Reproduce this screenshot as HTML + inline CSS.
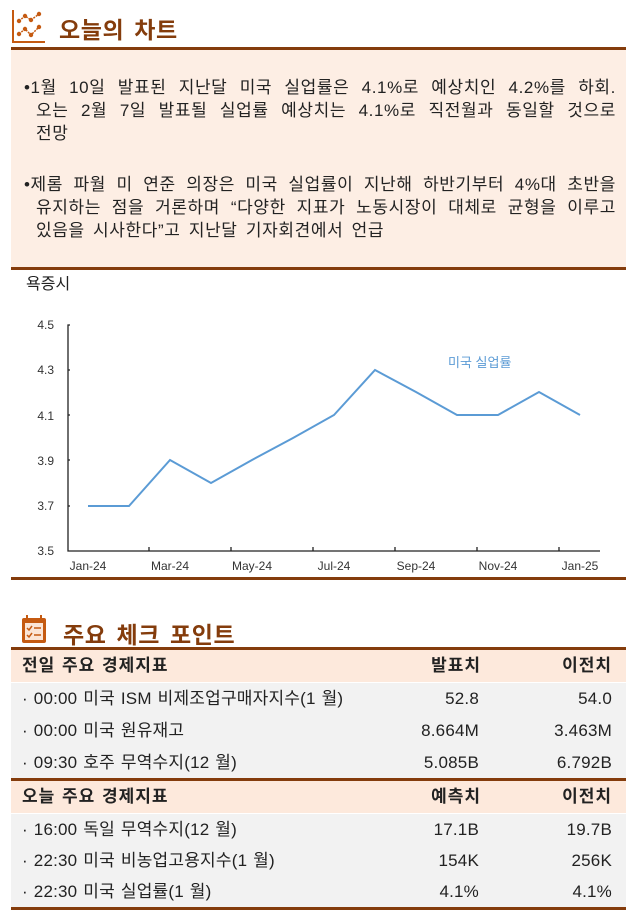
<!DOCTYPE html>
<html><head><meta charset="utf-8"><style>
body{margin:0;width:636px;height:921px;background:#fff;font-family:"Liberation Sans","Noto Sans CJK KR",sans-serif;position:relative;overflow:hidden}
.abs{position:absolute}
.title{font-weight:bold;color:#843c0c;font-size:23px;letter-spacing:0.6px;word-spacing:3px}
.rule{position:absolute;left:11px;width:615px;height:3px;background:#843c0c}
.pink{position:absolute;left:11px;top:50px;width:615px;height:218px;background:#fdeee4}
.p{position:absolute;left:24px;width:592px;font-size:17px;line-height:23px;color:#222;letter-spacing:0.6px}
.p div{text-align:justify;text-align-last:justify;white-space:nowrap}
.p div.l{text-align-last:left}
.p div.i{padding-left:12px}
.row{position:absolute;left:11px;width:615px;height:32px;font-size:17px;color:#222;line-height:32px;letter-spacing:0.2px;word-spacing:1px}
.row span{position:absolute}
.hd{background:#fde9dc;font-weight:bold;font-size:17px;letter-spacing:1px}
.gr{background:#f2f2f2}
</style></head><body>
<svg class="abs" style="left:11px;top:8px" width="36" height="36" viewBox="0 0 36 36">
<path d="M2 2V34H34" stroke="#c55a11" stroke-width="2" fill="none"/>
<polyline points="8,13 14,8 20,12 28,6" stroke="#c55a11" stroke-width="1.5" fill="none" stroke-dasharray="2 1"/>
<polyline points="8,26 14,21 20,27 28,19" stroke="#c55a11" stroke-width="1.5" fill="none" stroke-dasharray="2 1"/>
<g fill="#c55a11"><circle cx="8" cy="13" r="2.2"/><circle cx="14" cy="8" r="2.2"/><circle cx="20" cy="12" r="2.2"/><circle cx="28" cy="6" r="2.2"/><circle cx="8" cy="26" r="2.2"/><circle cx="14" cy="21" r="2.2"/><circle cx="20" cy="27" r="2.2"/><circle cx="28" cy="19" r="2.2"/></g>
</svg>
<div class="abs title" style="left:59px;top:11px">오늘의 차트</div>
<div class="pink"></div>
<div class="rule" style="top:47px"></div>
<div class="p" style="top:76px"><div>•1월 10일 발표된 지난달 미국 실업률은 4.1%로 예상치인 4.2%를 하회.</div><div class="i">오는 2월 7일 발표될 실업률 예상치는 4.1%로 직전월과 동일할 것으로</div><div class="i l">전망</div></div>
<div class="p" style="top:173px"><div>•제롬 파월 미 연준 의장은 미국 실업률이 지난해 하반기부터 4%대 초반을</div><div class="i">유지하는 점을 거론하며 “다양한 지표가 노동시장이 대체로 균형을 이루고</div><div class="i l" style="word-spacing:3px">있음을 시사한다”고 지난달 기자회견에서 언급</div></div>
<div class="rule" style="top:267px"></div>
<div class="abs" style="left:26px;top:270px;font-size:16px;color:#222">욕증시</div>
<svg class="abs" style="left:0;top:300px" width="636" height="280">
<g font-family="Liberation Sans" font-size="12" fill="#333" text-anchor="end">
<text x="54" y="29">4.5</text><text x="54" y="74">4.3</text><text x="54" y="120">4.1</text><text x="54" y="165">3.9</text><text x="54" y="210">3.7</text><text x="54" y="255">3.5</text>
</g>
<g stroke="#222" stroke-width="1.3" fill="none">
<path d="M70 25H68V251H600"/>
<path d="M68 70H70M68 115H70M68 160H70M68 206H70"/>
<path d="M149 251V247M231 251V247M313 251V247M395 251V247M477 251V247M559 251V247"/>
</g>
<g font-family="Liberation Sans" font-size="12" fill="#333" text-anchor="middle">
<text x="88" y="270">Jan-24</text><text x="170" y="270">Mar-24</text><text x="252" y="270">May-24</text><text x="334" y="270">Jul-24</text><text x="416" y="270">Sep-24</text><text x="498" y="270">Nov-24</text><text x="580" y="270">Jan-25</text>
</g>
<polyline fill="none" stroke="#5b9bd5" stroke-width="2" points="88,206 129,206 170,160 211,183 252,160 293,138 334,115 375,70 416,92 457,115 498,115 539,92 580,115"/>
<text x="448" y="67" font-size="13" fill="#5b9bd5" font-family="Liberation Sans,Noto Sans CJK KR">미국 실업률</text>
</svg>
<div class="rule" style="top:577px"></div>
<svg class="abs" style="left:21px;top:614px" width="26" height="30" viewBox="0 0 26 30">
<rect x="1" y="4" width="24" height="25" rx="2" fill="#c55a11"/>
<rect x="4" y="9" width="18" height="17" fill="#fbe5d6"/>
<path d="M6 1V7M20 1V7" stroke="#c55a11" stroke-width="2"/>
<path d="M6 14l2 2 3-4M6 21l2 2 3-4M13 14H20M13 21H20" stroke="#c55a11" stroke-width="1.5" fill="none"/>
</svg>
<div class="abs title" style="left:63px;top:616px">주요 체크 포인트</div>
<div class="rule" style="top:647px"></div>
<div class="row hd" style="top:650px"><span style="left:11px">전일 주요 경제지표</span><span style="right:145px">발표치</span><span style="right:14px">이전치</span></div>
<div class="row gr" style="top:683px"><span style="left:11px">· 00:00 미국 ISM 비제조업구매자지수(1 월)</span><span style="right:147px">52.8</span><span style="right:14px">54.0</span></div>
<div class="row gr" style="top:715px"><span style="left:11px">· 00:00 미국 원유재고</span><span style="right:147px">8.664M</span><span style="right:14px">3.463M</span></div>
<div class="row gr" style="top:747px"><span style="left:11px">· 09:30 호주 무역수지(12 월)</span><span style="right:147px">5.085B</span><span style="right:14px">6.792B</span></div>
<div class="rule" style="top:778px"></div>
<div class="row hd" style="top:781px"><span style="left:11px">오늘 주요 경제지표</span><span style="right:145px">예측치</span><span style="right:14px">이전치</span></div>
<div class="row gr" style="top:814px"><span style="left:11px">· 16:00 독일 무역수지(12 월)</span><span style="right:147px">17.1B</span><span style="right:14px">19.7B</span></div>
<div class="row gr" style="top:845px"><span style="left:11px">· 22:30 미국 비농업고용지수(1 월)</span><span style="right:147px">154K</span><span style="right:14px">256K</span></div>
<div class="row gr" style="top:876px"><span style="left:11px">· 22:30 미국 실업률(1 월)</span><span style="right:147px">4.1%</span><span style="right:14px">4.1%</span></div>
<div class="rule" style="top:907px"></div>
</body></html>
